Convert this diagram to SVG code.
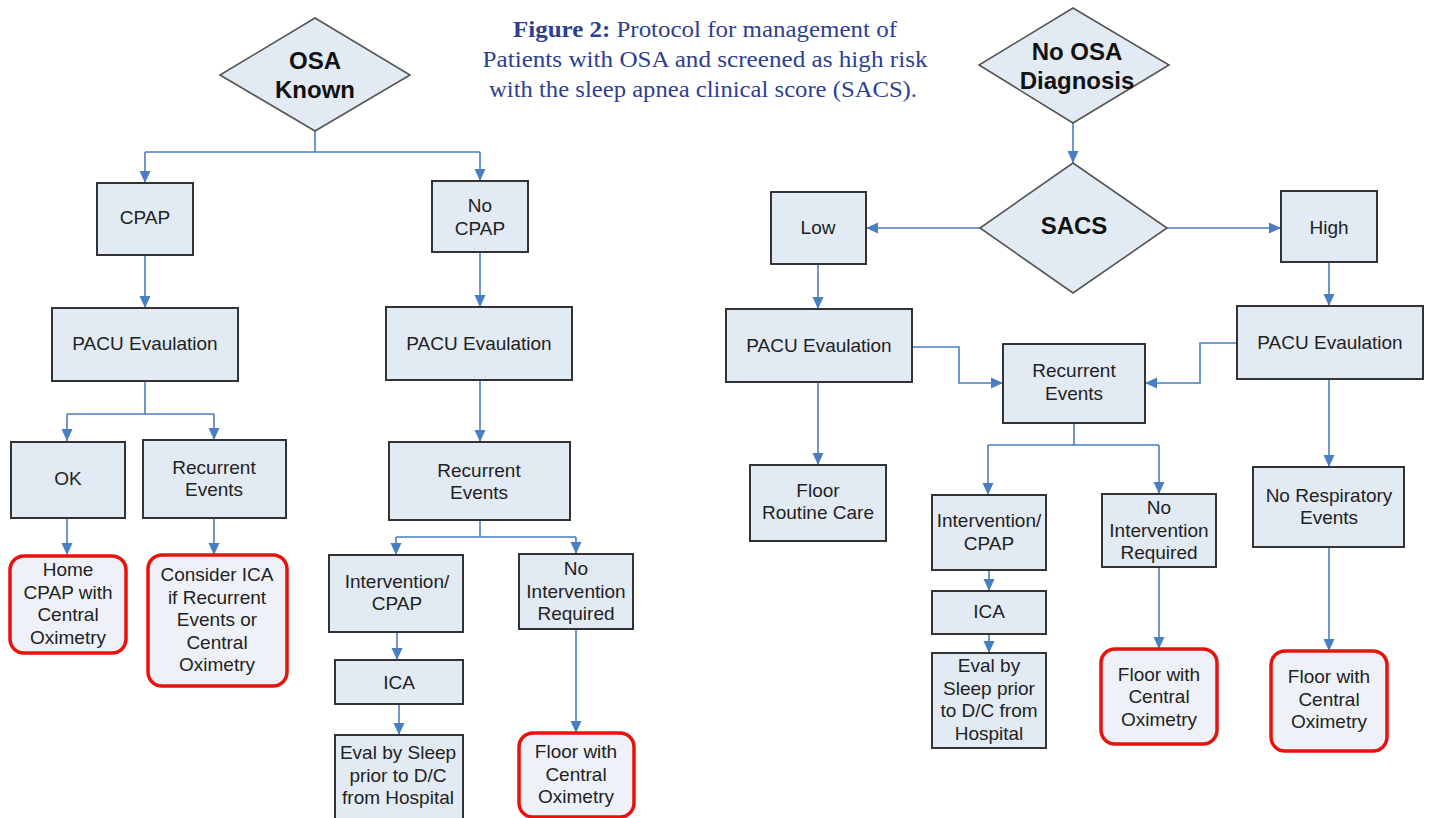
<svg xmlns="http://www.w3.org/2000/svg" width="1429" height="818" viewBox="0 0 1429 818">
<style>
.bx{fill:#e2eaf4;stroke:#333;stroke-width:2}
.rb{fill:#eef2f8;stroke:#e8120c;stroke-width:3.5}
.dm{fill:#e2eaf4;stroke:#555;stroke-width:1.6}
.t{font-family:"Liberation Sans",Arial,sans-serif;font-size:19px;fill:#222;text-anchor:middle}
.tb{font-family:"Liberation Sans",Arial,sans-serif;font-size:24px;font-weight:bold;fill:#111;text-anchor:middle}
.c{fill:none;stroke:#4a7ec2;stroke-width:1.6}
.ti{font-family:"Liberation Serif","Times New Roman",serif;font-size:23px;fill:#2e3f8f;text-anchor:middle}
</style>
<defs>
<marker id="ah" markerUnits="userSpaceOnUse" markerWidth="12" markerHeight="12" viewBox="0 0 12 12" refX="12" refY="6" orient="auto">
<path d="M0,0.5 L12,6 L0,11.5 Z" fill="#4a7ec2"/>
</marker>
</defs>
<rect width="1429" height="818" fill="#ffffff"/>
<g id="title">
<text class="ti" x="705" y="37" textLength="384" lengthAdjust="spacingAndGlyphs"><tspan font-weight="bold">Figure 2:</tspan> Protocol for management of</text>
<text class="ti" x="705" y="67" textLength="445" lengthAdjust="spacingAndGlyphs">Patients with OSA and screened as high risk</text>
<text class="ti" x="703" y="97" textLength="428" lengthAdjust="spacingAndGlyphs">with the sleep apnea clinical score (SACS).</text>
</g>
<g id="connectors">
<path class="c" d="M315,131 V152 M145,152 H480"/>
<path class="c" d="M145,152 V183" marker-end="url(#ah)"/>
<path class="c" d="M480,152 V181" marker-end="url(#ah)"/>
<path class="c" d="M145,255 V308" marker-end="url(#ah)"/>
<path class="c" d="M480,252 V307" marker-end="url(#ah)"/>
<path class="c" d="M145,381 V414 M67,414 H214"/>
<path class="c" d="M67,414 V441" marker-end="url(#ah)"/>
<path class="c" d="M214,414 V440" marker-end="url(#ah)"/>
<path class="c" d="M67,518 V555" marker-end="url(#ah)"/>
<path class="c" d="M214,518 V555" marker-end="url(#ah)"/>
<path class="c" d="M480,380 V442" marker-end="url(#ah)"/>
<path class="c" d="M480,520 V537 M396,537 H576"/>
<path class="c" d="M396,537 V555" marker-end="url(#ah)"/>
<path class="c" d="M576,537 V554" marker-end="url(#ah)"/>
<path class="c" d="M397,632 V660" marker-end="url(#ah)"/>
<path class="c" d="M399,704 V735" marker-end="url(#ah)"/>
<path class="c" d="M576,629 V733" marker-end="url(#ah)"/>
<path class="c" d="M1073,123 V163" marker-end="url(#ah)"/>
<path class="c" d="M980,228 H866" marker-end="url(#ah)"/>
<path class="c" d="M1167,228 H1281" marker-end="url(#ah)"/>
<path class="c" d="M818,264 V309" marker-end="url(#ah)"/>
<path class="c" d="M1329,262 V306" marker-end="url(#ah)"/>
<path class="c" d="M912,347 H959 V383 H1003" marker-end="url(#ah)"/>
<path class="c" d="M1237,343 H1200 V383 H1145" marker-end="url(#ah)"/>
<path class="c" d="M818,382 V465" marker-end="url(#ah)"/>
<path class="c" d="M1329,379 V467" marker-end="url(#ah)"/>
<path class="c" d="M1329,547 V651" marker-end="url(#ah)"/>
<path class="c" d="M1074,423 V445 M988,445 H1159"/>
<path class="c" d="M988,445 V495" marker-end="url(#ah)"/>
<path class="c" d="M1159,445 V494" marker-end="url(#ah)"/>
<path class="c" d="M989,570 V591" marker-end="url(#ah)"/>
<path class="c" d="M989,634 V653" marker-end="url(#ah)"/>
<path class="c" d="M1159,567 V649" marker-end="url(#ah)"/>
</g>
<g id="osa-known">
<polygon class="dm" points="315,18 410,75 315,131 220,75"/>
<text class="tb" x="315" y="69">OSA</text>
<text class="tb" x="315" y="98">Known</text>
</g>
<g id="cpap"><rect class="bx" x="97" y="183" width="96" height="72"/><text class="t" x="145" y="224">CPAP</text></g>
<g id="no-cpap"><rect class="bx" x="432" y="181" width="96" height="71"/><text class="t" x="480" y="212">No</text><text class="t" x="480" y="235">CPAP</text></g>
<g id="pacu-1"><rect class="bx" x="52" y="308" width="186" height="73"/><text class="t" x="145" y="350">PACU Evaulation</text></g>
<g id="pacu-2"><rect class="bx" x="386" y="307" width="186" height="73"/><text class="t" x="479" y="350">PACU Evaulation</text></g>
<g id="ok"><rect class="bx" x="11" y="442" width="114" height="76"/><text class="t" x="68" y="485">OK</text></g>
<g id="recurrent-1"><rect class="bx" x="143" y="440" width="143" height="78"/><text class="t" x="214" y="474">Recurrent</text><text class="t" x="214" y="496">Events</text></g>
<g id="home-cpap"><rect class="rb" x="10" y="556" width="116" height="97" rx="14"/><text class="t" x="68" y="576">Home</text><text class="t" x="68" y="599">CPAP with</text><text class="t" x="68" y="621">Central</text><text class="t" x="68" y="644">Oximetry</text></g>
<g id="consider-ica"><rect class="rb" x="148" y="555" width="139" height="131" rx="14"/><text class="t" x="217" y="581">Consider ICA</text><text class="t" x="217" y="604">if Recurrent</text><text class="t" x="217" y="626">Events or</text><text class="t" x="217" y="649">Central</text><text class="t" x="217" y="671">Oximetry</text></g>
<g id="recurrent-2"><rect class="bx" x="389" y="442" width="181" height="78"/><text class="t" x="479" y="477">Recurrent</text><text class="t" x="479" y="499">Events</text></g>
<g id="intervention-1"><rect class="bx" x="329" y="555" width="134" height="77"/><text class="t" x="397" y="588">Intervention/</text><text class="t" x="397" y="610">CPAP</text></g>
<g id="no-intervention-1"><rect class="bx" x="519" y="554" width="114" height="75"/><text class="t" x="576" y="575">No</text><text class="t" x="576" y="598">Intervention</text><text class="t" x="576" y="620">Required</text></g>
<g id="ica-1"><rect class="bx" x="335" y="660" width="128" height="44"/><text class="t" x="399" y="689">ICA</text></g>
<g id="eval-1"><rect class="bx" x="335" y="735" width="128" height="90"/><text class="t" x="398" y="759">Eval by Sleep</text><text class="t" x="398" y="782">prior to D/C</text><text class="t" x="398" y="804">from Hospital</text></g>
<g id="floor-1"><rect class="rb" x="519" y="733" width="115" height="84" rx="14"/><text class="t" x="576" y="758">Floor with</text><text class="t" x="576" y="781">Central</text><text class="t" x="576" y="803">Oximetry</text></g>
<g id="no-osa"><polygon class="dm" points="1073,8 1169,65 1073,123 979,65"/><text class="tb" x="1077" y="60">No OSA</text><text class="tb" x="1077" y="89">Diagnosis</text></g>
<g id="sacs"><polygon class="dm" points="1073,163 1167,228 1073,293 980,228"/><text class="tb" x="1074" y="234" font-size="20">SACS</text></g>
<g id="low"><rect class="bx" x="771" y="192" width="95" height="72"/><text class="t" x="818" y="234">Low</text></g>
<g id="high"><rect class="bx" x="1281" y="191" width="96" height="71"/><text class="t" x="1329" y="234">High</text></g>
<g id="pacu-3"><rect class="bx" x="726" y="309" width="186" height="73"/><text class="t" x="819" y="352">PACU Evaulation</text></g>
<g id="pacu-4"><rect class="bx" x="1237" y="306" width="186" height="73"/><text class="t" x="1330" y="349">PACU Evaulation</text></g>
<g id="recurrent-3"><rect class="bx" x="1003" y="344" width="142" height="79"/><text class="t" x="1074" y="377">Recurrent</text><text class="t" x="1074" y="400">Events</text></g>
<g id="floor-routine"><rect class="bx" x="750" y="465" width="136" height="76"/><text class="t" x="818" y="497">Floor</text><text class="t" x="818" y="519">Routine Care</text></g>
<g id="no-resp"><rect class="bx" x="1253" y="467" width="151" height="80"/><text class="t" x="1329" y="502">No Respiratory</text><text class="t" x="1329" y="524">Events</text></g>
<g id="intervention-2"><rect class="bx" x="932" y="495" width="114" height="75"/><text class="t" x="989" y="527">Intervention/</text><text class="t" x="989" y="550">CPAP</text></g>
<g id="no-intervention-2"><rect class="bx" x="1102" y="494" width="114" height="73"/><text class="t" x="1159" y="514">No</text><text class="t" x="1159" y="537">Intervention</text><text class="t" x="1159" y="559">Required</text></g>
<g id="ica-2"><rect class="bx" x="932" y="591" width="114" height="43"/><text class="t" x="989" y="618">ICA</text></g>
<g id="eval-2"><rect class="bx" x="932" y="653" width="114" height="95"/><text class="t" x="989" y="672">Eval by</text><text class="t" x="989" y="695">Sleep prior</text><text class="t" x="989" y="717">to D/C from</text><text class="t" x="989" y="740">Hospital</text></g>
<g id="floor-2"><rect class="rb" x="1101" y="649" width="116" height="95" rx="14"/><text class="t" x="1159" y="681">Floor with</text><text class="t" x="1159" y="703">Central</text><text class="t" x="1159" y="726">Oximetry</text></g>
<g id="floor-3"><rect class="rb" x="1271" y="651" width="116" height="100" rx="14"/><text class="t" x="1329" y="683">Floor with</text><text class="t" x="1329" y="706">Central</text><text class="t" x="1329" y="728">Oximetry</text></g>
</svg>
